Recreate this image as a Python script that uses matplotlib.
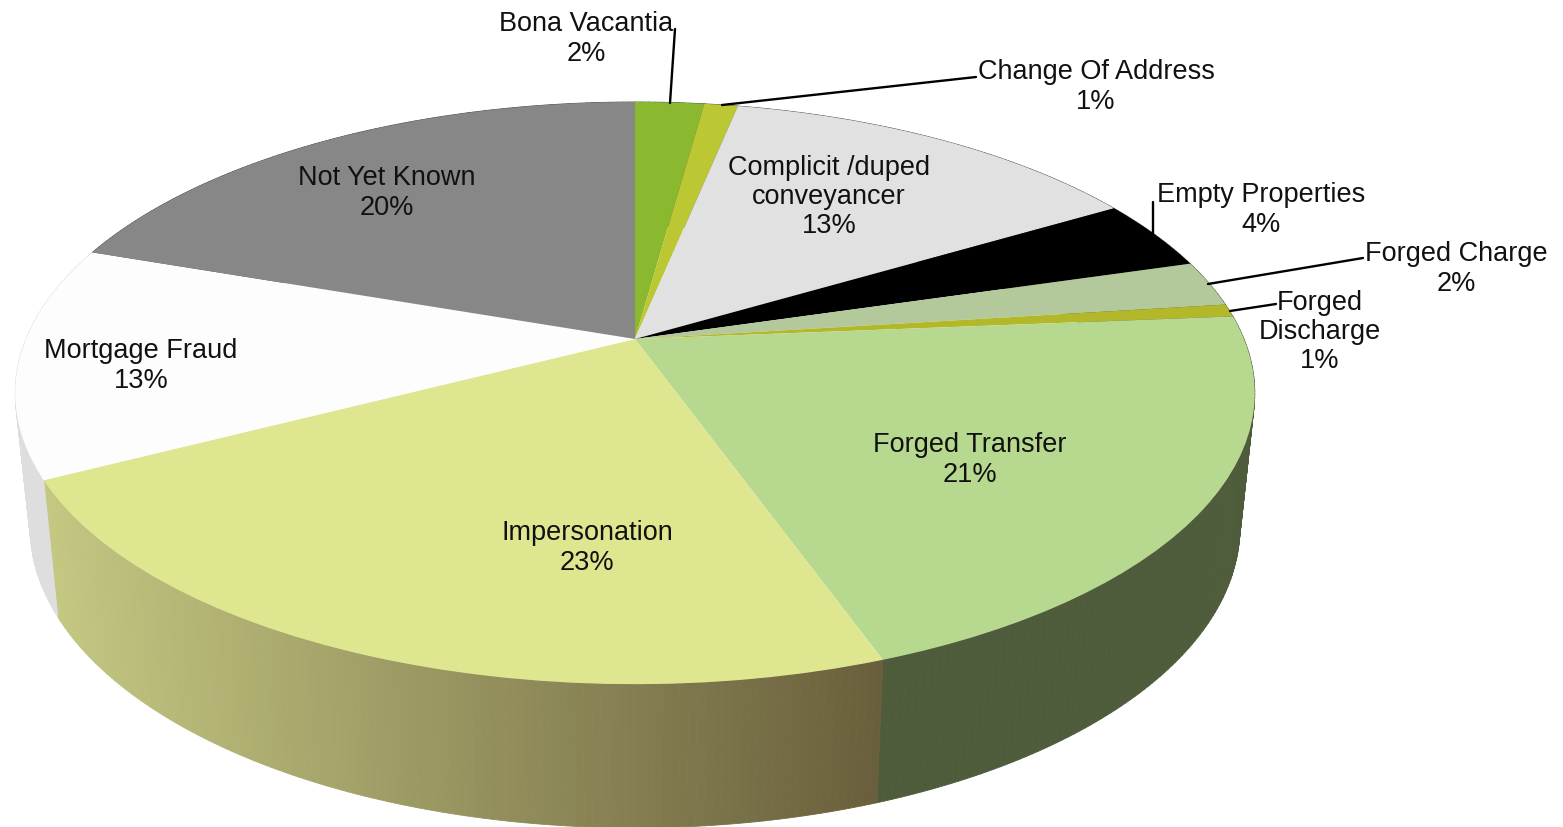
import numpy as np
import matplotlib
matplotlib.use("Agg")
import matplotlib.pyplot as plt
from matplotlib.transforms import Transform
from matplotlib.collections import PolyCollection
from matplotlib.colors import to_rgb

# ---- data ----
categories = ["Bona Vacantia", "Change Of Address", "Complicit /duped\nconveyancer",
              "Empty Properties", "Forged Charge", "Forged\nDischarge", "Forged Transfer",
              "Impersonation", "Mortgage Fraud", "Not Yet Known"]
values = [2.15, 1.05, 13.3, 3.95, 2.55, 0.7, 20.85, 22.85, 12.9, 19.7]
percent_labels = ["2%", "1%", "13%", "4%", "2%", "1%", "21%", "23%", "13%", "20%"]

# ---- styles ----
top_colors = ["#8ab82e", "#bcc734", "#e1e1e1", "#000000", "#b3c99c",
              "#b2b82a", "#b7d88f", "#dfe690", "#fdfdfd", "#878787"]
side_left_rgb = to_rgb("#c4c882")
side_right_rgb = to_rgb("#6a5f3c")
side_colors = {6: "#4f5c3b", 8: "#dedede"}

label_xy = [(586, 39), (1096, 87), (829, 197), (1261, 210), (1456, 269),
            (1320, 332), (970, 460), (587, 548), (141, 366), (387, 193)]
leaders = [
    [(675, 30), (670, 104)],
    [(976, 78), (722, 106)],
    None,
    [(1153, 203), (1153, 235)],
    [(1363, 259), (1208, 285)],
    [(1276, 305), (1230, 312)],
    None, None, None, None,
]

FONT = "Liberation Sans"
W, H = 1563, 828
CX, CY = 635, 340
K = 0.1856
A, B = 609, 281


class Perspective(Transform):
    """Maps the unit pie disc onto the tilted ellipse, in pixel-like data units."""
    input_dims = output_dims = 2
    is_separable = False
    has_inverse = False

    def transform_non_affine(self, values):
        v = np.asarray(values, float)
        d = 1 + K * v[:, 1]
        return np.column_stack([CX + A * v[:, 0] / d, CY - B * v[:, 1] / d])


persp = Perspective()


def lower(p):
    return np.column_stack([CX + 0.976 * (p[:, 0] - CX), 617 + 1.033 * (p[:, 1] - 480)])


fig = plt.figure(figsize=(W / 100, H / 100), dpi=100)
ax = fig.add_axes([0, 0, 1, 1])

wedges, _ = ax.pie(values, colors=top_colors, startangle=90, counterclock=False, radius=1)
ax.set_aspect("auto")
ax.set_xlim(0, W)
ax.set_ylim(H, 0)
ax.axis("off")

for w in wedges:
    w.set_transform(persp + ax.transData)
    w.set_zorder(3)
    w.set_linewidth(0)

# side wall, built from the same slice angles
edges = 360 * np.cumsum([0] + values) / sum(values)
polys, cols = [], []
for i in range(len(values)):
    n = max(2, int((edges[i + 1] - edges[i]) * 1.5))
    ang = np.radians(90 - np.linspace(edges[i], edges[i + 1], n))
    rim = persp.transform_non_affine(np.column_stack([np.cos(ang), np.sin(ang)]))
    low = lower(rim)
    for j in range(n - 1):
        polys.append([rim[j], rim[j + 1], low[j + 1], low[j]])
        if i == 7:
            t = np.clip((rim[j, 0] - 43) / (883 - 43), 0, 1)
            cols.append(tuple(np.array(side_left_rgb) * (1 - t) + np.array(side_right_rgb) * t))
        else:
            cols.append(to_rgb(side_colors.get(i, "#4f5c3b")))
ax.add_collection(PolyCollection(polys, facecolors=cols, edgecolors=cols, linewidths=0.6, zorder=2))

for seg in leaders:
    if seg:
        ax.plot(*zip(*seg), color="black", lw=1.7, zorder=4, solid_capstyle="round")

for name, pct, (x, y) in zip(categories, percent_labels, label_xy):
    ax.text(x, y, f"{name}\n{pct}", ha="center", va="center", family=FONT, fontsize=19.5,
            linespacing=1.17, color="#111111", zorder=5)

fig.savefig("out.png", dpi=100)
